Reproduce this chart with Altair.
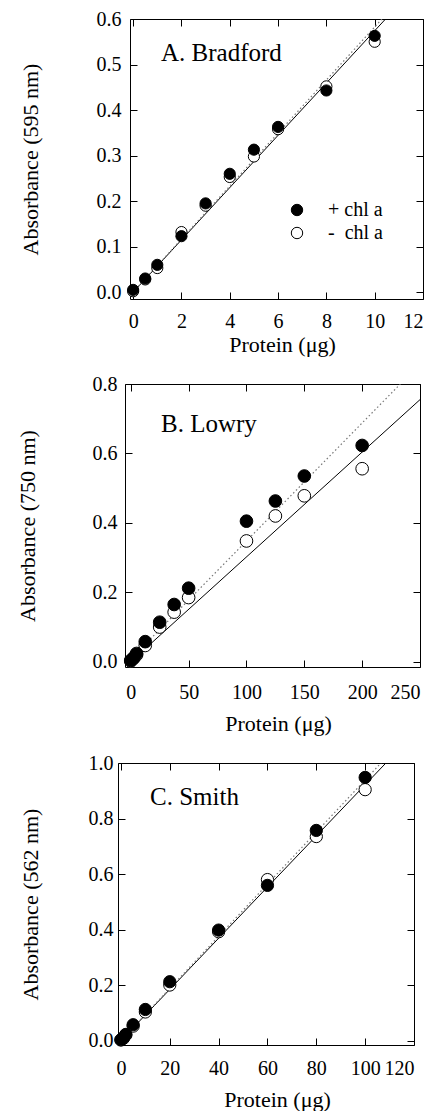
import altair as alt
import pandas as pd

FONT = "Liberation Serif"

# ---------------- data ----------------
legend_labels = ["+ chl a", "-\u00a0\u00a0chl a"]
x_title = "Protein (\u03bcg)"

# A. Bradford
a_name = "A. Bradford"
a_ylabel = "Absorbance (595 nm)"
a_protein = [0, 0.5, 1, 2, 3, 4, 5, 6, 8, 10]
a_plus = [0.005, 0.030, 0.060, 0.123, 0.195, 0.260, 0.313, 0.363, 0.443, 0.563]
a_minus = [0.002, 0.028, 0.053, 0.132, 0.190, 0.253, 0.298, 0.358, 0.452, 0.550]
a_fit_x = [0, 10.45]
a_fit_y = [0.0, 0.60]
a_fit2_x = [0, 10.3]
a_fit2_y = [0.0, 0.60]
a_xticks = [0, 2, 4, 6, 8, 10, 12]
a_yticks = [0.0, 0.1, 0.2, 0.3, 0.4, 0.5, 0.6]
a_xdom = [-0.13, 12]
a_ydom = [-0.015, 0.6]

# B. Lowry
b_name = "B. Lowry"
b_ylabel = "Absorbance (750 nm)"
b_protein = [0, 2.5, 5, 12.5, 25, 37.5, 50, 100, 125, 150, 200]
b_plus = [0.004, 0.012, 0.024, 0.058, 0.114, 0.165, 0.212, 0.405, 0.463, 0.535, 0.623]
b_minus = [0.002, 0.010, 0.020, 0.047, 0.100, 0.143, 0.185, 0.348, 0.420, 0.478, 0.556]
b_fit_x = [0, 250]
b_fit_y = [0.0, 0.755]
b_fit2_x = [0, 233]
b_fit2_y = [0.008, 0.80]
b_xticks = [0, 50, 100, 150, 200, 250]
b_yticks = [0.0, 0.2, 0.4, 0.6, 0.8]
b_xdom = [-5, 250]
b_ydom = [-0.015, 0.8]

# C. Smith
c_name = "C. Smith"
c_ylabel = "Absorbance (562 nm)"
c_protein = [0, 1, 2, 5, 10, 20, 40, 60, 80, 100]
c_plus = [0.003, 0.010, 0.022, 0.057, 0.112, 0.212, 0.398, 0.559, 0.757, 0.948]
c_minus = [0.002, 0.008, 0.020, 0.052, 0.103, 0.200, 0.392, 0.580, 0.735, 0.904]
c_fit_x = [0, 108.5]
c_fit_y = [0.0, 1.0]
c_fit2_x = [0, 106.5]
c_fit2_y = [0.0, 1.0]
c_xticks = [0, 20, 40, 60, 80, 100, 120]
c_yticks = [0.0, 0.2, 0.4, 0.6, 0.8, 1.0]
c_xdom = [-1.2, 120]
c_ydom = [-0.016, 1.0]

TICK = 7


def ax(**kw):
    return alt.Axis(labelFont=FONT, titleFont=FONT, labelFontSize=20,
                    titleFontSize=22, labelColor="black", titleColor="black",
                    tickColor="black", titleFontWeight="normal", grid=False,
                    domain=False, labelOverlap=False, **kw)


def panel(name, ylabel, prot, plus, minus, fx, fy, f2x, f2y, xticks, yticks,
          xdom, ydom, w, h, psize, xlab_pad, ylab_pad, xtitle_x, xtitle_y,
          ytitle_x, text_x, text_y, legend):
    pts = pd.DataFrame({
        "x": list(prot) + list(prot),
        "y": list(minus) + list(plus),
        "series": [legend_labels[1]] * len(prot) + [legend_labels[0]] * len(prot),
    })
    fit = pd.DataFrame({"x": fx, "y": fy})
    fit2 = pd.DataFrame({"x": f2x, "y": f2y})
    xs = alt.Scale(domain=xdom, nice=False, zero=False)
    ys = alt.Scale(domain=ydom, nice=False, zero=False)

    solid = alt.Chart(fit).mark_line(color="black", strokeWidth=1, clip=True).encode(
        x=alt.X("x:Q", scale=xs, axis=ax(
            orient="bottom", values=xticks, format="d", ticks=False,
            labelPadding=xlab_pad, title=x_title, titleX=xtitle_x,
            titleY=xtitle_y, titleBaseline="middle", titleAlign="center")),
        y=alt.Y("y:Q", scale=ys, axis=ax(
            orient="left", values=yticks, format=".1f", ticks=False,
            labelPadding=ylab_pad, title=ylabel, titleX=ytitle_x,
            titleY=h / 2, titleAngle=270, titleBaseline="middle", titleAlign="center")),
    )
    dotted = alt.Chart(fit2).mark_line(color="#777777", strokeWidth=1.2,
                                       strokeDash=[1.5, 2.5], clip=True).encode(
        x=alt.X("x:Q", scale=xs, axis=ax(
            orient="bottom", values=xticks, offset=-TICK, tickSize=TICK,
            labels=False, title=None)),
        y=alt.Y("y:Q", scale=ys, axis=ax(
            orient="left", values=yticks, offset=-TICK, tickSize=TICK,
            labels=False, title=None)),
    )
    if legend:
        leg = alt.Legend(orient="none", legendX=157, legendY=181, title=None,
                         symbolType="circle", symbolSize=130,
                         symbolStrokeColor="black", symbolStrokeWidth=1,
                         labelFont=FONT, labelFontSize=20, labelColor="black",
                         labelOffset=21, rowPadding=3, padding=0)
    else:
        leg = None
    points = alt.Chart(pts).mark_point(filled=True, stroke="black", strokeWidth=1,
                                       size=psize, opacity=1).encode(
        x=alt.X("x:Q", scale=xs, axis=ax(
            orient="top", values=xticks, offset=-TICK, tickSize=TICK,
            labels=False, title=None)),
        y=alt.Y("y:Q", scale=ys, axis=ax(
            orient="right", values=yticks, offset=-TICK, tickSize=TICK,
            labels=False, title=None)),
        fill=alt.Fill("series:N", scale=alt.Scale(domain=legend_labels,
                                                  range=["black", "white"]),
                      legend=leg),
    )
    label = alt.Chart(pd.DataFrame({"t": [name]})).mark_text(
        align="left", baseline="alphabetic", font=FONT, fontSize=25, color="black"
    ).encode(x=alt.value(text_x), y=alt.value(text_y), text="t:N")

    return alt.layer(solid, dotted, points, label).resolve_axis(
        x="independent", y="independent").properties(width=w, height=h)


def spacer(w):
    return alt.Chart(pd.DataFrame({"t": [""]})).mark_text().encode(
        x=alt.value(0), y=alt.value(0), text="t:N"
    ).properties(width=w, height=1,
                 view=alt.ViewBackground(stroke="transparent"))


def row(w, p):
    return alt.hconcat(spacer(w), p, spacing=0).resolve_scale(fill="independent")


pa = panel(a_name, a_ylabel, a_protein, a_plus, a_minus, a_fit_x, a_fit_y,
           a_fit2_x, a_fit2_y, a_xticks, a_yticks, a_xdom, a_ydom,
           293, 280, 125, 12, 9, 152, 45, -100, 31, 42, True)
pb = panel(b_name, b_ylabel, b_protein, b_plus, b_minus, b_fit_x, b_fit_y,
           b_fit2_x, b_fit2_y, b_xticks, b_yticks, b_xdom, b_ydom,
           295, 283, 160, 15, 8, 153, 56, -98, 36, 48, False)
pc = panel(c_name, c_ylabel, c_protein, c_plus, c_minus, c_fit_x, c_fit_y,
           c_fit2_x, c_fit2_y, c_xticks, c_yticks, c_xdom, c_ydom,
           296, 282, 150, 13, 5, 159, 54, -88, 32, 42, False)

chart = alt.vconcat(row(8, pa), row(5, pb), row(8, pc), spacing=17).resolve_scale(
    fill="independent"
).properties(
    padding={"left": 0, "top": 0, "right": 0, "bottom": 0},
    background="white",
).configure_view(
    stroke="black", strokeWidth=1
)

chart.save("out.html", embed_options={"renderer": "svg", "actions": False})
